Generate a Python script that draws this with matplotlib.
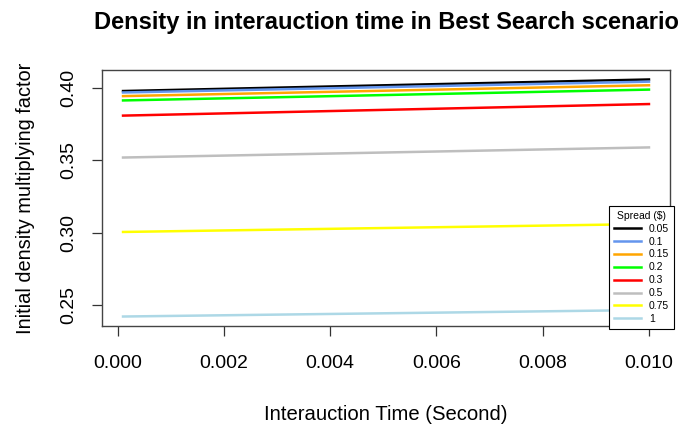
import numpy as np
import matplotlib.pyplot as plt

plt.rcParams['font.family'] = ['Liberation Sans', 'DejaVu Sans']

# x positions of the two ends of every curve (seconds)
time = [0.0001, 0.01]
spreads = ['0.05', '0.1', '0.15', '0.2', '0.3', '0.5', '0.75', '1']
colors = ['black', 'cornflowerblue', 'orange', '#00ff00', 'red', '#bebebe', 'yellow', 'lightblue']
# density factor at start and end
density = [
    [0.398, 0.406],
    [0.397, 0.4045],
    [0.3945, 0.402],
    [0.3915, 0.399],
    [0.381, 0.389],
    [0.352, 0.359],
    [0.3005, 0.306],
    [0.242, 0.2465],
]

fig = plt.figure(figsize=(6.82, 4.25), dpi=100)
ax = fig.add_axes([102/682, 1-326/425, (670-102)/682, (326-70)/425])

for lab, col, vals in zip(spreads, colors, density):
    ax.plot(time, vals, color=col, lw=1.8, label=lab)

# R style axis ranges (4% padding)
xr = max(time) - min(time)
ax.set_xlim(min(time) - 0.04*xr, max(time) + 0.04*xr)
lo = min(min(v) for v in density)
hi = max(max(v) for v in density)
ax.set_ylim(lo - 0.04*(hi-lo), hi + 0.04*(hi-lo))

ax.set_xticks([0.000, 0.002, 0.004, 0.006, 0.008, 0.010])
ax.set_xticklabels(['0.000', '0.002', '0.004', '0.006', '0.008', '0.010'])
ax.set_yticks([0.25, 0.30, 0.35, 0.40])
ax.set_yticklabels(['0.25', '0.30', '0.35', '0.40'], rotation=90, va='center')
ax.tick_params(direction='out', length=7, width=0.9, labelsize=14, color='#333333')
ax.tick_params(axis='x', pad=14)
ax.tick_params(axis='y', pad=11)
for s in ax.spines.values():
    s.set_color('#444444')
    s.set_linewidth(1.0)

ax.set_xlabel('Interauction Time (Second)', fontsize=14.6, labelpad=24)
ax.set_ylabel('Initial density multiplying factor', fontsize=14.4, labelpad=18)
fig.text(386/682, 1-22/425, 'Density in interauction time in Best Search scenario',
         fontsize=17, fontweight='bold', ha='center', va='center')

leg = ax.legend(title='Spread (\\$)', loc='upper left', bbox_to_anchor=(609/682, 1-206/425),
                bbox_transform=fig.transFigure, borderaxespad=0, fontsize=7.5, title_fontsize=7.5,
                frameon=True, fancybox=False, edgecolor='black', labelspacing=0.28,
                handlelength=2.6, borderpad=0.45)
leg.get_frame().set_linewidth(0.8)
leg.get_frame().set_alpha(1)

fig.savefig('out.png', dpi=100)
